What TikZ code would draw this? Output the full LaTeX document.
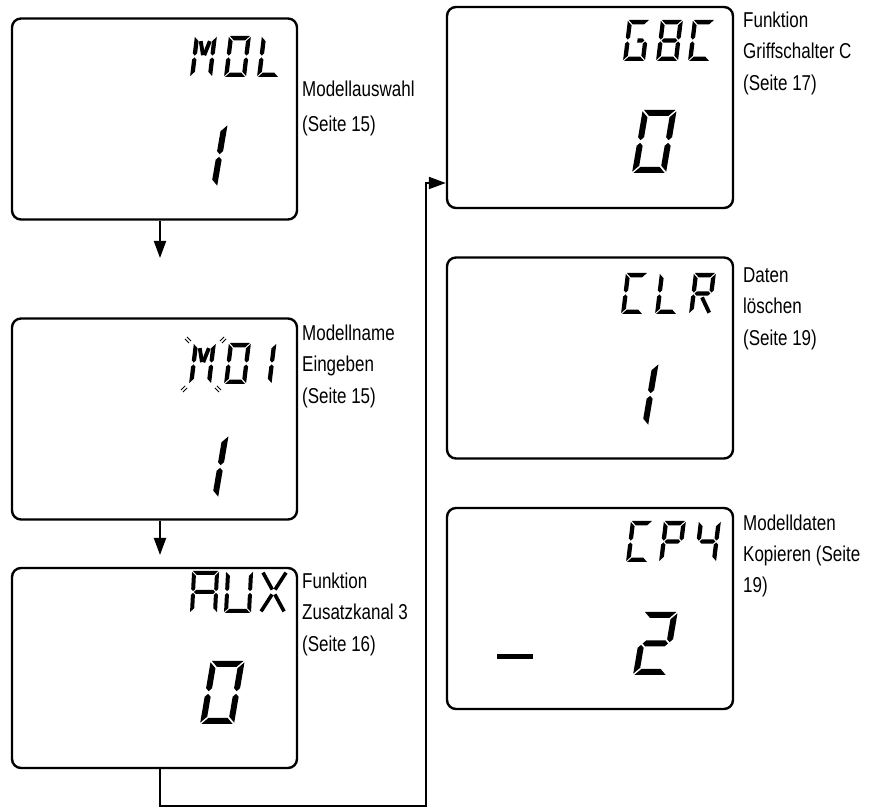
\documentclass[tikz,border=0pt]{standalone}
\usepackage{fontspec}
\setmainfont{Liberation Sans}[FakeStretch=0.79]
\usetikzlibrary{arrows.meta}

% seven/fourteen segment pieces (local cell, y up)
\newcommand\lcdsega{\fill (\lcG,\lcH) -- (\lcW-\lcG,\lcH) -- (\lcW-\lcT-\lcG,\lcH-\lcT) -- (\lcT+\lcG,\lcH-\lcT) -- cycle;}
\newcommand\lcdsegd{\fill (\lcG,0) -- (\lcW-\lcG,0) -- (\lcW-\lcT-\lcG,\lcT) -- (\lcT+\lcG,\lcT) -- cycle;}
\newcommand\lcdsegb{\fill (\lcW,\lcH-\lcG) -- (\lcW,\lcM+\lcT/2+\lcG) -- (\lcW-\lcT/2,\lcM+\lcG) -- (\lcW-\lcT,\lcM+\lcT/2+\lcG) -- (\lcW-\lcT,\lcH-\lcT-\lcG) -- cycle;}
\newcommand\lcdsegc{\fill (\lcW,\lcG) -- (\lcW,\lcM-\lcT/2-\lcG) -- (\lcW-\lcT/2,\lcM-\lcG) -- (\lcW-\lcT,\lcM-\lcT/2-\lcG) -- (\lcW-\lcT,\lcT+\lcG) -- cycle;}
\newcommand\lcdsege{\fill (0,\lcG) -- (0,\lcM-\lcT/2-\lcG) -- (\lcT/2,\lcM-\lcG) -- (\lcT,\lcM-\lcT/2-\lcG) -- (\lcT,\lcT+\lcG) -- cycle;}
\newcommand\lcdsegf{\fill (0,\lcH-\lcG) -- (0,\lcM+\lcT/2+\lcG) -- (\lcT/2,\lcM+\lcG) -- (\lcT,\lcM+\lcT/2+\lcG) -- (\lcT,\lcH-\lcT-\lcG) -- cycle;}
\newcommand\lcdsegg{\fill (\lcT/2+\lcG,\lcM) -- (\lcT+\lcG,\lcM+\lcT/2) -- (\lcW-\lcT-\lcG,\lcM+\lcT/2) -- (\lcW-\lcT/2-\lcG,\lcM) -- (\lcW-\lcT-\lcG,\lcM-\lcT/2) -- (\lcT+\lcG,\lcM-\lcT/2) -- cycle;}
\newcommand\lcdsegh{\fill (\lcW/2+\lcG,\lcM+\lcT/2) -- (\lcW-\lcT-\lcG,\lcM+\lcT/2) -- (\lcW-\lcT/2-\lcG,\lcM) -- (\lcW-\lcT-\lcG,\lcM-\lcT/2) -- (\lcW/2+\lcG,\lcM-\lcT/2) -- cycle;}
% M diagonals
\newcommand\lcdsegi{\draw[line width=\lcD pt] (\lcT*1.5,\lcH-\lcT*1.2) -- (\lcW/2-\lcT*0.15,\lcM+\lcT*0.3);}
\newcommand\lcdsegj{\draw[line width=\lcD pt] (\lcW-\lcT*1.5,\lcH-\lcT*1.2) -- (\lcW/2+\lcT*0.15,\lcM+\lcT*0.3);}
% X diagonals
\newcommand\lcdsegp{\draw[line width=\lcD pt] (\lcT*0.5,\lcH-\lcT*0.4) -- (\lcW/2-\lcT*0.35,\lcM+\lcT*0.6);}
\newcommand\lcdsegq{\draw[line width=\lcD pt] (\lcW-\lcT*0.5,\lcH-\lcT*0.4) -- (\lcW/2+\lcT*0.35,\lcM+\lcT*0.6);}
\newcommand\lcdsegr{\draw[line width=\lcD pt] (\lcT*0.5,\lcT*0.4) -- (\lcW/2-\lcT*0.35,\lcM-\lcT*0.6);}
\newcommand\lcdsegs{\draw[line width=\lcD pt] (\lcW-\lcT*0.5,\lcT*0.4) -- (\lcW/2+\lcT*0.35,\lcM-\lcT*0.6);}
% R leg
\newcommand\lcdsegt{\draw[line width=\lcD pt] (\lcW/2,\lcM-\lcT*0.9) -- (\lcW-\lcT*0.45,\lcT*0.3);}

% #1 x, #2 bottom y (image coords), #3 height, #4 width, #5 stroke, #6 slant, #7 segments
\newcommand\lcdglyph[7]{%
  \begin{scope}[shift={(#1,808-#2)},xslant=#6]
    \pgfmathsetmacro\lcH{#3}\pgfmathsetmacro\lcW{#4}\pgfmathsetmacro\lcT{#5}%
    \pgfmathsetmacro\lcM{#3/2}\pgfmathsetmacro\lcG{0.22*#5}\pgfmathsetmacro\lcD{0.9*#5}%
    \foreach \s in {#7}{\csname lcdseg\s\endcsname}%
  \end{scope}}
\newcommand\smallglyph[3]{\lcdglyph{#1}{#2}{41}{22}{4.3}{0.12}{#3}}
\newcommand\bigglyph[3]{\lcdglyph{#1}{#2}{63}{34}{6}{0.17}{#3}}
\newcommand\blinkmark[3]{%
  \begin{scope}[shift={(#1,808-#2)},rotate=#3]
    \draw[line width=1pt] (-3,-1.4) -- (3,-1.4) (-3,1.4) -- (3,1.4);
  \end{scope}}

\tikzset{
  lcdbox/.style={draw, line width=2.4pt, rounded corners=9pt, minimum width=285pt, minimum height=201pt, inner sep=0pt},
  flow/.style={line width=2pt, -{Triangle[length=17pt,width=12pt]}},
  lbl/.style={anchor=base west, inner sep=0pt, font=\fontsize{21.5}{24}\selectfont},
}

\begin{document}
\begin{tikzpicture}[x=1pt,y=1pt]
\useasboundingbox (0,0) rectangle (870,808);

% display boxes
\node[lcdbox] (b1) at (154.5,689) {};
\node[lcdbox] (b2) at (154.5,389) {};
\node[lcdbox, minimum height=200pt] (b3) at (154.5,140) {};
\node[lcdbox, minimum width=286pt] (b4) at (590,700.5) {};
\node[lcdbox, minimum width=286pt] (b5) at (590,450) {};
\node[lcdbox, minimum width=286pt] (b6) at (590,199.5) {};

% connectors
\coordinate (t1) at (160,550);
\coordinate (t2) at (160,253);
\coordinate (c1) at (160,2);
\coordinate (c2) at (426,2);
\coordinate (c3) at (426,625);
\draw[flow] (b1.south -| t1) -- (t1);
\draw[flow] (b2.south -| t2) -- (t2);
\draw[flow] (b3.south -| c1) -- (c1) -- (c2) -- (c3) -- (c3 -| b4.west);

% labels
\node[lbl] (l1a) at (302,711) {Modellauswahl};
\node[lbl] (l1b) at (302,676) {(Seite 15)};
\node[lbl] (l2a) at (302,467) {Modellname};
\node[lbl] (l2b) at (302,436) {Eingeben};
\node[lbl] (l2c) at (302,404) {(Seite 15)};
\node[lbl] (l3a) at (302,219) {Funktion};
\node[lbl] (l3b) at (302,188) {Zusatzkanal 3};
\node[lbl] (l3c) at (302,156) {(Seite 16)};
\node[lbl] (l4a) at (743,780) {Funktion};
\node[lbl] (l4b) at (743,749) {Griffschalter C};
\node[lbl] (l4c) at (743,717) {(Seite 17)};
\node[lbl] (l5a) at (743,525) {Daten};
\node[lbl] (l5b) at (743,494) {löschen};
\node[lbl] (l5c) at (743,462) {(Seite 19)};
\node[lbl] (l6a) at (743,277) {Modelldaten};
\node[lbl] (l6b) at (743,246) {Kopieren (Seite};
\node[lbl] (l6c) at (743,215) {19)};

% box 1: MDL / 1
\smallglyph{190}{77}{f,e,b,c,i,j}
\smallglyph{224}{77}{a,b,c,d,e,f}
\smallglyph{257}{77}{f,e,d}
\bigglyph{183}{187}{b,c}

% box 2: MD1 (blinking M) / 1
\smallglyph{189}{384}{f,e,b,c,i,j}
\smallglyph{224}{384}{a,b,c,d,e,f}
\smallglyph{249.5}{384}{b,c}
\blinkmark{188}{340}{-45}
\blinkmark{223}{340}{45}
\blinkmark{184}{389}{45}
\blinkmark{218}{389}{-45}
\bigglyph{184}{498}{b,c}

% box 3: AUX / 0
\lcdglyph{190}{613}{42}{27}{4}{0.05}{a,b,c,e,f,g}
\lcdglyph{224}{613}{42}{27}{4}{0.05}{b,c,d,e,f}
\lcdglyph{259}{613}{42}{27}{4}{0.05}{p,q,r,s}
\bigglyph{200}{724}{a,b,c,d,e,f}

% box 4: GBC / 0
\smallglyph{623}{61}{a,f,e,d,c,h}
\smallglyph{656}{61}{a,b,c,d,e,f,g}
\smallglyph{688}{61}{a,f,e,d}
\bigglyph{632}{173}{a,b,c,d,e,f}

% box 5: CLR / 1
\smallglyph{621}{314}{a,f,e,d}
\smallglyph{655}{314}{f,e,d}
\smallglyph{689}{314}{a,b,f,e,g,t}
\bigglyph{614}{426}{b,c}

% box 6: CPY / - 2
\smallglyph{626}{562}{a,f,e,d}
\smallglyph{659}{562}{a,b,f,e,g}
\smallglyph{694}{562}{f,b,g,c}
\bigglyph{633}{675}{a,b,g,e,d}
\fill (497,149) rectangle (533,154);
\end{tikzpicture}
\end{document}
